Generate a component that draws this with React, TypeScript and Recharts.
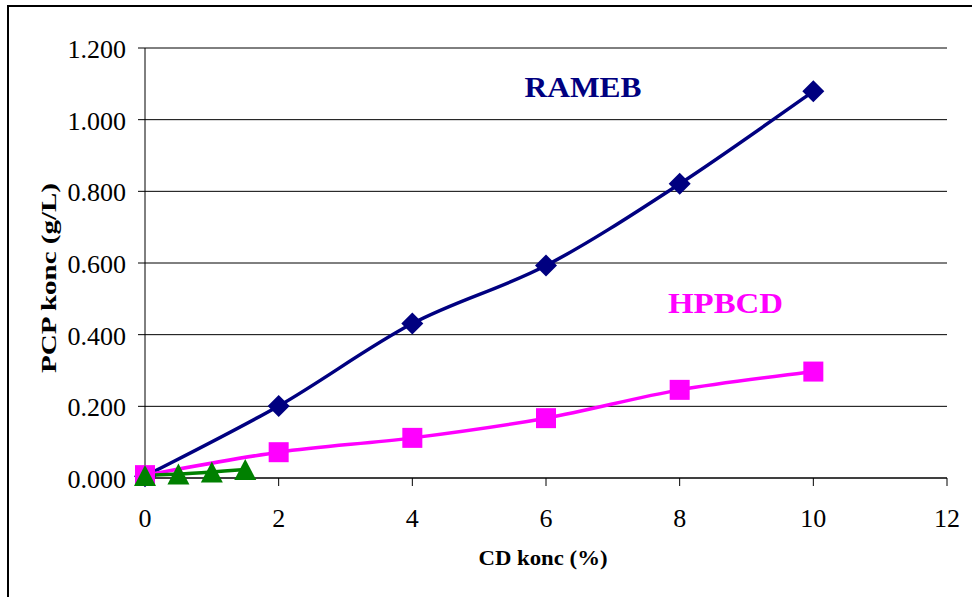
import React from 'react';
import { LineChart, Line, XAxis, YAxis, CartesianGrid, Customized, Label } from 'recharts';

const xTicks = [0, 2, 4, 6, 8, 10, 12];
const yTicks = [0, 0.2, 0.4, 0.6, 0.8, 1.0, 1.2];

const ramebX = [0, 2, 4, 6, 8, 10];
const ramebY = [0.005, 0.201, 0.431, 0.593, 0.821, 1.079];

const hpbcdX = [0, 2, 4, 6, 8, 10];
const hpbcdY = [0.008, 0.072, 0.112, 0.167, 0.246, 0.297];

const thirdX = [0, 0.5, 1, 1.5];
const thirdY = [0.007, 0.011, 0.017, 0.024];

const xTitle = 'CD konc (%)';
const yTitle = 'PCP konc (g/L)';
const ramebName = 'RAMEB';
const hpbcdName = 'HPBCD';

const FONT = '"Liberation Serif", "Times New Roman", serif';
const NAVY = '#000080';
const MAGENTA = '#FF00FF';
const GREEN = '#008000';

const ramebData = ramebX.map((x, i) => ({ x, y: ramebY[i] }));
const hpbcdData = hpbcdX.map((x, i) => ({ x, y: hpbcdY[i] }));
const thirdData = thirdX.map((x, i) => ({ x, y: thirdY[i] }));

// Excel-like smoothed line (Catmull-Rom style Bezier)
const smoothCurve = (context: any) => {
  let pts: number[][] = [];
  return {
    areaStart() {},
    areaEnd() {},
    lineStart() {
      pts = [];
    },
    point(x: number, y: number) {
      pts.push([+x, +y]);
    },
    lineEnd() {
      const n = pts.length;
      if (!n) return;
      context.moveTo(pts[0][0], pts[0][1]);
      if (n === 1) return;
      for (let i = 0; i < n - 1; i++) {
        const p0 = pts[i - 1] || pts[i];
        const p1 = pts[i];
        const p2 = pts[i + 1];
        const p3 = pts[i + 2] || pts[i + 1];
        context.bezierCurveTo(
          p1[0] + (p2[0] - p0[0]) / 6,
          p1[1] + (p2[1] - p0[1]) / 6,
          p2[0] - (p3[0] - p1[0]) / 6,
          p2[1] - (p3[1] - p1[1]) / 6,
          p2[0],
          p2[1]
        );
      }
    },
  };
};

const YTick = (props: any) => {
  const { x, y, payload } = props;
  return (
    <text x={x} y={y} dy={10} textAnchor="end" fontFamily={FONT} fontSize={26} fill="#000">
      {Number(payload.value).toFixed(3)}
    </text>
  );
};

const XTick = (props: any) => {
  const { x, y, payload } = props;
  return (
    <text x={x} y={y} dy={29} textAnchor="middle" fontFamily={FONT} fontSize={26} fill="#000">
      {payload.value}
    </text>
  );
};

const Diamond = (props: any) => {
  const { cx, cy, index } = props;
  if (cx == null || cy == null) return <g key={`d${index}`} />;
  const r = 11;
  return (
    <polygon
      key={`d${index}`}
      points={`${cx},${cy - r} ${cx + r},${cy} ${cx},${cy + r} ${cx - r},${cy}`}
      fill={NAVY}
    />
  );
};

const Square = (props: any) => {
  const { cx, cy, index } = props;
  if (cx == null || cy == null) return <g key={`s${index}`} />;
  const h = 10;
  return <rect key={`s${index}`} x={cx - h} y={cy - h} width={2 * h} height={2 * h} fill={MAGENTA} />;
};

const Triangle = (props: any) => {
  const { cx, cy, index } = props;
  if (cx == null || cy == null) return <g key={`t${index}`} />;
  const w = 11;
  const h = 10.5;
  return (
    <polygon
      key={`t${index}`}
      points={`${cx},${cy - h} ${cx + w},${cy + h} ${cx - w},${cy + h}`}
      fill={GREEN}
    />
  );
};

const Annotations = () => (
  <g>
    <text
      x={583}
      y={97}
      textAnchor="middle"
      fontFamily={FONT}
      fontWeight="bold"
      fontSize={30}
      fill={NAVY}
      textLength={117}
      lengthAdjust="spacingAndGlyphs"
    >
      {ramebName}
    </text>
    <text
      x={725.5}
      y={313}
      textAnchor="middle"
      fontFamily={FONT}
      fontWeight="bold"
      fontSize={30}
      fill={MAGENTA}
      textLength={115}
      lengthAdjust="spacingAndGlyphs"
    >
      {hpbcdName}
    </text>
  </g>
);

export default function App() {
  return (
    <div style={{ position: 'absolute', left: 0, top: 0, width: 972, height: 597, overflow: 'hidden', background: '#fff' }}>
      <div
        style={{
          position: 'absolute',
          left: 7,
          top: 5,
          width: 990,
          height: 620,
          borderLeft: '2px solid #000',
          borderTop: '2px solid #000',
        }}
      />
      <div style={{ position: 'absolute', left: 0, top: 0 }}>
        <LineChart width={972} height={597} margin={{ top: 48, right: 25, bottom: 0, left: 0 }}>
          <CartesianGrid horizontal={true} vertical={false} stroke="#000" strokeWidth={1} />
          <XAxis
            dataKey="x"
            type="number"
            domain={[0, 12]}
            ticks={xTicks}
            height={119}
            tickSize={8}
            tickMargin={12}
            stroke="#000"
            tick={<XTick />}
          >
            <Label
              content={(p: any) => {
                const vb = p.viewBox || { x: 145, width: 802 };
                return (
                  <text
                    x={vb.x + vb.width / 2 - 3}
                    y={565}
                    textAnchor="middle"
                    fontFamily={FONT}
                    fontWeight="bold"
                    fontSize={21}
                    fill="#000"
                    textLength={129}
                    lengthAdjust="spacingAndGlyphs"
                  >
                    {xTitle}
                  </text>
                );
              }}
            />
          </XAxis>
          <YAxis
            type="number"
            domain={[0, 1.2]}
            ticks={yTicks}
            width={145}
            tickSize={7}
            tickMargin={12}
            stroke="#000"
            tick={<YTick />}
          >
            <Label
              content={() => (
                <text
                  x={56}
                  y={278}
                  textAnchor="middle"
                  transform="rotate(-90, 56, 278)"
                  fontFamily={FONT}
                  fontWeight="bold"
                  fontSize={21}
                  fill="#000"
                  textLength={190}
                  lengthAdjust="spacingAndGlyphs"
                >
                  {yTitle}
                </text>
              )}
            />
          </YAxis>
          <Line
            data={ramebData}
            dataKey="y"
            type={smoothCurve as any}
            stroke={NAVY}
            strokeWidth={3.5}
            dot={Diamond}
            activeDot={false}
            isAnimationActive={false}
          />
          <Line
            data={hpbcdData}
            dataKey="y"
            type={smoothCurve as any}
            stroke={MAGENTA}
            strokeWidth={3.5}
            dot={Square}
            activeDot={false}
            isAnimationActive={false}
          />
          <Line
            data={thirdData}
            dataKey="y"
            type={smoothCurve as any}
            stroke={GREEN}
            strokeWidth={3.5}
            dot={Triangle}
            activeDot={false}
            isAnimationActive={false}
          />
          <Customized component={Annotations} />
        </LineChart>
      </div>
    </div>
  );
}
